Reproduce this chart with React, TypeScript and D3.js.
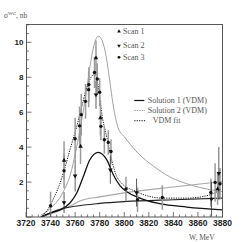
import React from "react";
import * as d3 from "d3";

// scan data: [W (MeV), sigma (nb), error]
const scan1: [number, number, number][] = [
  [3751, 3.24, 1.1],
  [3764.4, 4.04, 1.0],
  [3777, 9.1, 1.0],
  [3780.6, 5.67, 1.0],
  [3876, 1.6, 0.9],
];
const scan2: [number, number, number][] = [
  [3751, 0.83, 0.6],
  [3760, 2.36, 0.9],
  [3777, 7.0, 0.8],
  [3788.7, 2.7, 0.8],
  [3810, 1.4, 0.8],
  [3871, 1.02, 1.0],
  [3877, 2.5, 1.5],
];
const scan3: [number, number, number][] = [
  [3740, 0.64, 0.8],
  [3751, 2.65, 1.0],
  [3760, 4.48, 1.2],
  [3763.6, 5.22, 1.1],
  [3765, 5.86, 1.2],
  [3768.5, 6.62, 1.0],
  [3771, 7.29, 1.0],
  [3771.2, 7.58, 1.0],
  [3775.8, 8.28, 0.9],
  [3778, 7.9, 0.9],
  [3780, 7.14, 0.8],
  [3781, 5.19, 0.8],
  [3783.8, 4.42, 0.8],
  [3787, 4.27, 0.7],
  [3789.2, 3.75, 0.7],
  [3801.4, 1.6, 0.7],
  [3810.8, 0.99, 0.7],
  [3831, 1.12, 0.7],
  [3870.5, 1.4, 0.8],
  [3874, 1.98, 1.1],
  [3878, 1.9, 0.9],
];

// curves: [W, sigma]
const sol2Peak: [number, number][] = [
  [3732, 0.1], [3740, 0.5], [3750, 1.4], [3756, 2.4], [3761, 3.9], [3766, 5.8],
  [3770, 7.6], [3773, 9.0], [3776, 10.0], [3779, 10.35], [3782, 10.1], [3785, 9.3],
  [3788, 7.9], [3791, 6.4], [3795, 5.1], [3800, 4.6], [3812, 3.6], [3824, 2.9],
  [3837, 2.3], [3851, 1.9], [3864, 1.65], [3880, 1.45],
];
const sol2Bg: [number, number][] = [
  [3733, 0], [3745, 0.3], [3755, 0.6], [3765, 0.95], [3780, 1.15], [3800, 1.38],
  [3840, 1.72], [3880, 2.03],
];
const sol1Peak: [number, number][] = [
  [3732, 0], [3739.5, 0.22], [3747.7, 0.41], [3755.8, 0.8], [3761.3, 1.37],
  [3766.7, 2.32], [3772, 3.28], [3778.9, 3.7], [3785.7, 3.28], [3791.1, 2.42],
  [3796.5, 1.8], [3812.8, 1.08], [3829, 0.76], [3851, 0.57], [3880, 0.41],
];
const sol1Bg: [number, number][] = [
  [3733, 0], [3740, 0.25], [3750, 0.48], [3760, 0.62], [3780, 0.78], [3800, 0.88],
  [3840, 0.99], [3880, 1.08],
];
const vdmFit: [number, number][] = [
  [3732, 0], [3737, 0.35], [3742, 1.0], [3747, 1.8], [3752, 2.9], [3756, 3.9],
  [3761, 5.1], [3765, 6.2], [3769, 7.3], [3773, 8.0], [3776, 8.2], [3779, 7.4],
  [3782, 5.8], [3786, 4.5], [3790, 3.2], [3794, 2.3], [3797, 2.0], [3810, 1.45],
  [3831, 1.08], [3851, 1.08], [3870, 1.27], [3880, 1.65],
];

const xTicks = [3720, 3740, 3760, 3780, 3800, 3820, 3840, 3860, 3880];
const yTicks = [2, 4, 6, 8, 10];

export default function App() {
  const x = d3.scaleLinear().domain([3720, 3880]).range([26, 222.5]);
  const y = d3.scaleLinear().domain([0, 11.05]).range([217, 24]);
  const line = d3
    .line<[number, number]>()
    .x((d) => x(d[0]))
    .y((d) => y(d[1]))
    .curve(d3.curveMonotoneX);

  const xMinor = d3.range(3720, 3881, 5);
  const yMinor = d3.range(0, 11.01, 0.5);
  const triUp = d3.symbol(d3.symbolTriangle, 9)() as string;
  const triSmall = d3.symbol(d3.symbolTriangle, 6)() as string;
  const serif = "'Liberation Serif', serif";
  const sans = "'Liberation Sans', Arial, sans-serif";

  const errBars = (data: [number, number, number][], color: string, w: number) =>
    data.map((d, i) => (
      <line
        key={i}
        x1={x(d[0])}
        x2={x(d[0])}
        y1={y(Math.max(0, d[1] - d[2]))}
        y2={y(d[1] + d[2])}
        stroke={color}
        strokeWidth={w}
      />
    ));

  return (
    <svg width={249} height={242} style={{ position: "absolute", left: 0, top: 0 }}>
      <rect width={249} height={242} fill="#fff" />
      <defs>
        <clipPath id="plot">
          <rect x={26} y={24} width={196.5} height={193} />
        </clipPath>
      </defs>

      <g clipPath="url(#plot)" fill="none">
        <path d={line(sol2Peak)!} stroke="#8a8a8a" strokeWidth={0.8} />
        <path d={line(sol2Bg)!} stroke="#a8a8a8" strokeWidth={1.1} />
        <path d={line(sol1Bg)!} stroke="#222" strokeWidth={1.1} />
        <path d={line(sol1Peak)!} stroke="#111" strokeWidth={1.3} />
        <path d={line(vdmFit)!} stroke="#111" strokeWidth={1} strokeDasharray="1.2,1.2" />
      </g>

      <g clipPath="url(#plot)">
        {errBars(scan1, "#9a9a9a", 1.5)}
        {errBars(scan3, "#9a9a9a", 1.5)}
        {errBars(scan2, "#333", 0.8)}
        {scan3.map((d, i) => (
          <circle key={i} cx={x(d[0])} cy={y(d[1])} r={1.7} fill="#111" />
        ))}
        {scan1.map((d, i) => (
          <path key={i} d={triUp} transform={`translate(${x(d[0])},${y(d[1])})`} fill="#111" />
        ))}
        {scan2.map((d, i) => (
          <path key={i} d={triUp} transform={`translate(${x(d[0])},${y(d[1])}) rotate(180)`} fill="#111" />
        ))}
      </g>

      {/* frame and ticks */}
      <rect x={26.5} y={24.5} width={196} height={192.5} fill="none" stroke="#555" strokeWidth={1} />
      {xMinor.map((v) => (
        <line key={v} x1={x(v)} x2={x(v)} y1={217} y2={217 - (v % 20 === 0 ? 5 : 2.5)} stroke="#555" strokeWidth={0.8} />
      ))}
      {yMinor.map((v) => (
        <line key={v} x1={26.5} x2={26.5 + (v % 2 === 0 ? 5 : 2.5)} y1={y(v)} y2={y(v)} stroke="#555" strokeWidth={0.8} />
      ))}
      {xTicks.map((v) => (
        <text key={v} x={x(v)} y={226} textAnchor="middle" fontFamily={sans} fontWeight="bold" fontSize={8.5} fill="#222">
          {v}
        </text>
      ))}
      {yTicks.map((v) => (
        <text key={v} x={23.5} y={y(v) + 3} textAnchor="end" fontFamily={sans} fontWeight="bold" fontSize={8} fill="#222">
          {v}
        </text>
      ))}

      <text x={4} y={18} fontFamily={serif} fontSize={7.5} fill="#555">
        σ<tspan fontSize={5} dy={-3}>WC</tspan>
        <tspan dy={3}>, nb</tspan>
      </text>
      <text x={189} y={240} fontFamily={serif} fontSize={7.5} fill="#555">
        W, MeV
      </text>

      {/* legend */}
      <g fontFamily={serif} fontSize={8} fill="#555">
        <path d={triSmall} transform="translate(119,31.3)" fill="#111" />
        <text x={123} y={34}>Scan 1</text>
        <path d={triSmall} transform="translate(119,45.7) rotate(180)" fill="#111" />
        <text x={123} y={48.4}>Scan 2</text>
        <circle cx={119} cy={57.3} r={1.4} fill="#111" />
        <text x={123} y={60}>Scan 3</text>

        <line x1={134.3} x2={144.3} y1={100.5} y2={100.5} stroke="#111" strokeWidth={1.2} />
        <text x={147.7} y={103.2}>Solution 1 (VDM)</text>
        <line x1={134.3} x2={145} y1={110.5} y2={110.5} stroke="#999" strokeWidth={1} strokeDasharray="1.5,1" />
        <text x={147.7} y={113.2}>Solution 2 (VDM)</text>
        <line x1={134.3} x2={146} y1={120.7} y2={120.7} stroke="#111" strokeWidth={1} strokeDasharray="1.2,1.2" />
        <text x={152.7} y={123.4}>VDM fit</text>
      </g>
    </svg>
  );
}
